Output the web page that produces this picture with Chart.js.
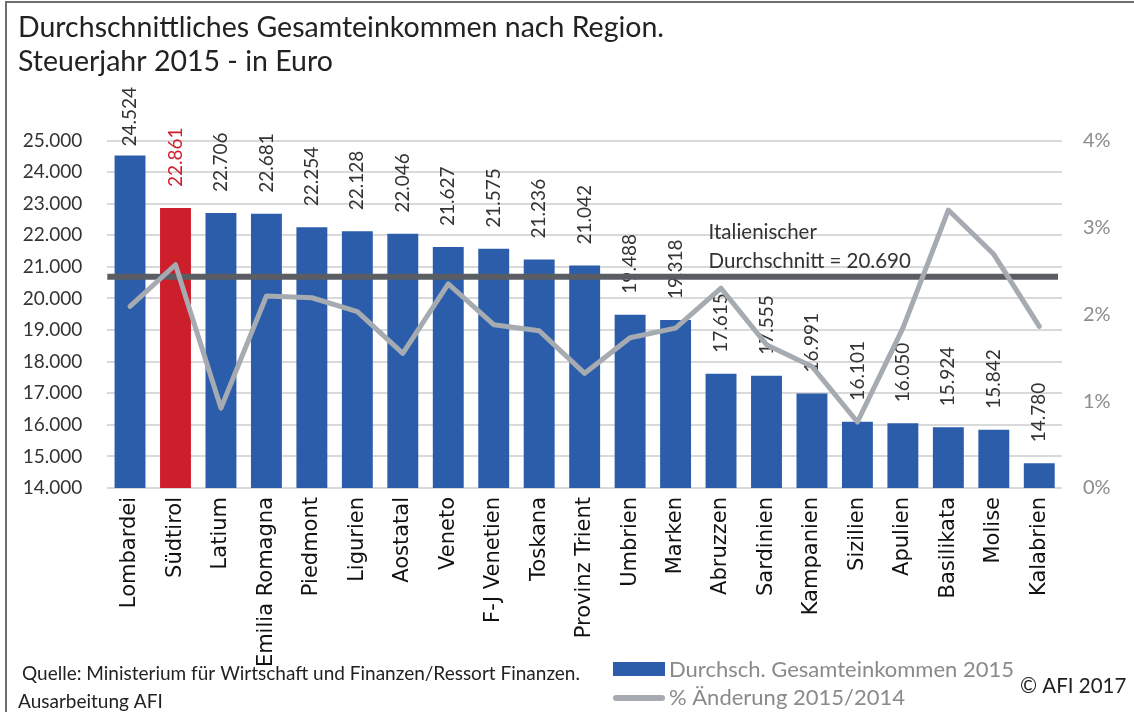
<!DOCTYPE html>
<html>
<head>
<meta charset="utf-8">
<script src="https://cdn.jsdelivr.net/npm/chart.js@4.4.1/dist/chart.umd.min.js"></script>
<style>
  html, body { margin: 0; padding: 0; background: #fff; }
  #wrap { width: 1134px; height: 712px; position: relative; }
</style>
</head>
<body>
<div id="wrap"><canvas id="chart" width="1134" height="712"></canvas></div>
<script>
var regions = ['Lombardei', 'Südtirol', 'Latium', 'Emilia Romagna', 'Piedmont', 'Ligurien', 'Aostatal',
  'Veneto', 'F-J Venetien', 'Toskana', 'Provinz Trient', 'Umbrien', 'Marken', 'Abruzzen', 'Sardinien',
  'Kampanien', 'Sizilien', 'Apulien', 'Basilikata', 'Molise', 'Kalabrien'];
var income = [24524, 22861, 22706, 22681, 22254, 22128, 22046, 21627, 21575, 21236, 21042,
  19488, 19318, 17615, 17555, 16991, 16101, 16050, 15924, 15842, 14780];
var pctChange = [2.09, 2.57, 0.92, 2.21, 2.19, 2.03, 1.55, 2.35, 1.88, 1.81, 1.32,
  1.73, 1.84, 2.30, 1.65, 1.40, 0.76, 1.84, 3.20, 2.69, 1.86];
var italyAverage = 20690;
var highlight = 'Südtirol';

var BLUE = '#2B5DAB', RED = '#CD1F2B', GRAY = '#A5ABB1', DARK = '#5A5E63';
var FONT = 'Lato';

function fmt(n) {
  return String(n).replace(/\B(?=(\d{3})+(?!\d))/g, '.');
}

var barColors = regions.map(function(r) { return r === highlight ? RED : BLUE; });

// value labels + italian average line, drawn between bars and the % line
var overlay = {
  id: 'overlay',
  afterDatasetDraw: function(chart, args) {
    if (args.index !== 0) return;
    var ctx = chart.ctx, area = chart.chartArea;
    var meta = chart.getDatasetMeta(0);
    ctx.save();
    ctx.font = '19px ' + FONT;
    ctx.textBaseline = 'middle';
    ctx.textAlign = 'left';
    meta.data.forEach(function(bar, i) {
      var txt = fmt(income[i]);
      var w = ctx.measureText(txt).width;
      var gap = Math.min(21, bar.y - 87 - w);
      ctx.save();
      ctx.translate(bar.x, bar.y - gap);
      ctx.rotate(-Math.PI / 2);
      ctx.fillStyle = regions[i] === highlight ? RED : '#333';
      ctx.fillText(txt, 0, 0);
      ctx.restore();
    });
    var y = chart.scales.y.getPixelForValue(italyAverage);
    ctx.strokeStyle = DARK;
    ctx.lineWidth = 6;
    ctx.beginPath();
    ctx.moveTo(area.left, y);
    ctx.lineTo(area.right - 4, y);
    ctx.stroke();
    var tx = chart.scales.x.getPixelForValue(12) + 33;
    ctx.fillStyle = '#333';
    ctx.font = '20.5px ' + FONT;
    ctx.fillText('Italienischer', tx, y - 44);
    ctx.fillText('Durchschnitt = ' + fmt(italyAverage), tx, y - 15);
    ctx.restore();
  },
  afterDraw: function(chart) {
    var ctx = chart.ctx;
    ctx.save();
    // frame
    ctx.strokeStyle = '#6E6E6E';
    ctx.lineWidth = 2;
    ctx.beginPath();
    ctx.moveTo(6, 712);
    ctx.lineTo(6, 2);
    ctx.lineTo(1134, 2);
    ctx.stroke();
    // legend
    var ds = chart.data.datasets;
    ctx.fillStyle = ds[0].legendColor;
    ctx.fillRect(613, 662, 52, 14);
    ctx.strokeStyle = ds[1].borderColor;
    ctx.lineWidth = 6;
    ctx.lineCap = 'round';
    ctx.beginPath();
    ctx.moveTo(616, 698);
    ctx.lineTo(662, 698);
    ctx.stroke();
    ctx.font = '22px ' + FONT;
    ctx.textBaseline = 'middle';
    ctx.fillStyle = '#8A8A8A';
    ctx.fillText(ds[0].label, 669, 670);
    ctx.fillText(ds[1].label, 669, 698);
    // source and copyright
    ctx.fillStyle = '#222';
    ctx.font = '19px ' + FONT;
    ctx.fillText('Quelle: Ministerium für Wirtschaft und Finanzen/Ressort Finanzen.', 22, 674);
    ctx.fillText('Ausarbeitung AFI', 18, 702);
    ctx.font = '20.5px ' + FONT;
    ctx.fillText('© AFI 2017', 1020, 686);
    ctx.restore();
  }
};

new Chart(document.getElementById('chart'), {
  data: {
    labels: regions,
    datasets: [
      {
        type: 'bar',
        label: 'Durchsch. Gesamteinkommen 2015',
        data: income,
        backgroundColor: barColors,
        legendColor: BLUE,
        yAxisID: 'y',
        categoryPercentage: 0.68,
        barPercentage: 1,
        order: 2
      },
      {
        type: 'line',
        label: '% Änderung 2015/2014',
        data: pctChange,
        borderColor: GRAY,
        borderWidth: 5,
        pointRadius: 0,
        tension: 0,
        borderJoinStyle: 'round',
        borderCapStyle: 'round',
        yAxisID: 'y2',
        order: 1
      }
    ]
  },
  options: {
    responsive: false,
    animation: false,
    layout: { padding: { left: 18, right: 0, top: 0, bottom: 0 } },
    plugins: {
      legend: { display: false },
      tooltip: { enabled: false },
      title: {
        display: true,
        text: ['Durchschnittliches Gesamteinkommen nach Region.', 'Steuerjahr 2015 - in Euro'],
        align: 'start',
        color: '#222',
        font: { family: FONT, size: 28.5, weight: 'normal', lineHeight: 1.22 },
        padding: { top: 10, bottom: 61 }
      }
    },
    scales: {
      x: {
        grid: { display: false, drawTicks: false },
        border: { display: false },
        ticks: {
          maxRotation: 90, minRotation: 90, autoSkip: false, padding: 9,
          color: '#111', font: { family: 'DejaVu Sans', size: 21 }
        },
        afterFit: function(s) { s.height = 224; }
      },
      y: {
        position: 'left',
        min: 14000, max: 25000,
        grid: { color: '#D9D9D9', lineWidth: 2, drawTicks: false },
        border: { display: false },
        ticks: {
          stepSize: 1000, padding: 25, color: '#333',
          font: { family: FONT, size: 19 },
          callback: function(v) { return fmt(v); }
        },
        afterFit: function(s) { s.width = 89.3; }
      },
      y2: {
        position: 'right',
        min: 0, max: 4,
        grid: { display: false, drawTicks: false },
        border: { display: false },
        ticks: {
          stepSize: 1, padding: 21, color: '#8C8C8C',
          font: { family: FONT, size: 20 },
          callback: function(v) { return v + '%'; }
        },
        afterFit: function(s) { s.width = 72; }
      }
    }
  },
  plugins: [overlay]
});
</script>
</body>
</html>
